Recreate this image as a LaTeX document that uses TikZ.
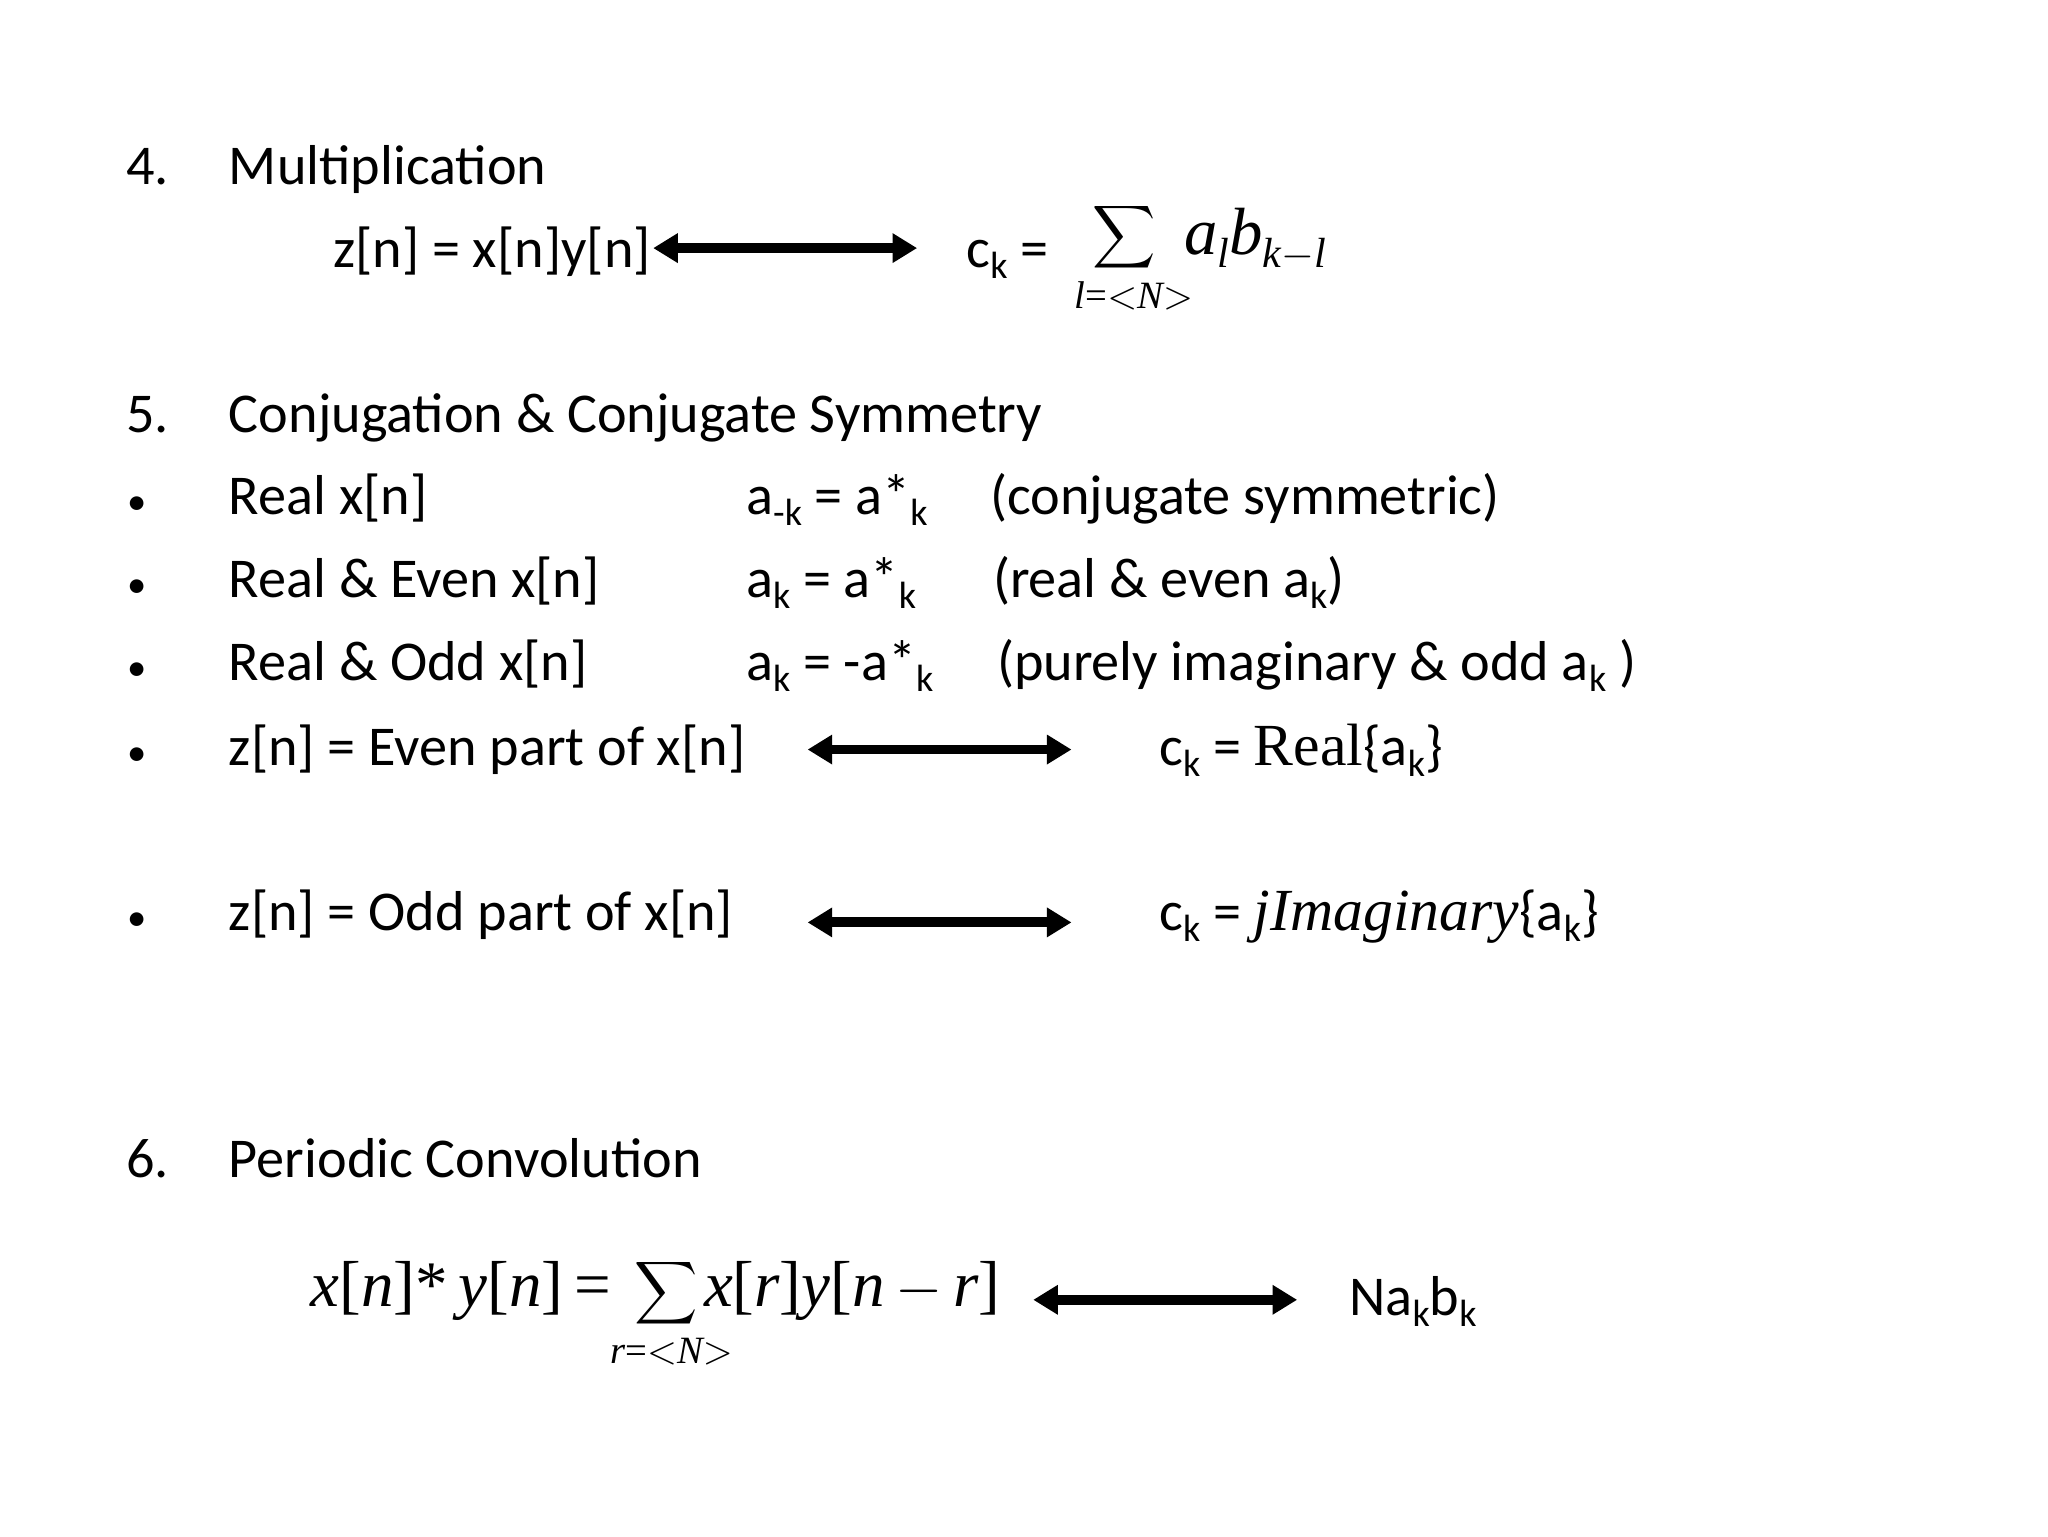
\documentclass[tikz,border=0pt]{standalone}
\usepackage{fontspec}
\setmainfont{Carlito}
\newfontfamily\tms{Liberation Serif}
\usetikzlibrary{arrows.meta}
\newcommand{\mi}[1]{{\tms\itshape #1}}
\newcommand{\sbs}[1]{\raisebox{-0.4ex}{\fontsize{10.8}{11}\selectfont #1}}
\newcommand{\msb}[1]{\raisebox{-0.4ex}{\fontsize{12}{12}\selectfont #1}}
\newcommand{\bigsum}{\scalebox{1.25}{$\displaystyle\sum$}}
\begin{document}
\begin{tikzpicture}[x=0.013196cm,y=-0.013196cm,
  txt/.style={anchor=base west,inner sep=0pt,font=\fontsize{16}{18}\selectfont},
  sig/.style={anchor=center,inner sep=0pt},
  bul/.style={anchor=base west,inner sep=0pt,font=\fontsize{11}{12}\selectfont},
  dbl/.style={line width=2.8pt,{Triangle[length=7pt,width=8pt]}-{Triangle[length=7pt,width=8pt]}}]
\useasboundingbox (0,0) rectangle (1552,1164);
% 4
\node[txt] (n4) at (95,140) {4.};
\node[txt] (t4) at (173,140) {Multiplication};
\node[txt] (z4) at (252,203) {z[n] = x[n]y[n]};
\node[txt] (c4) at (732,203) {c\sbs{k} =};
\node[sig] (s4) at (852,180) {\bigsum};
\node[txt] (ab4) at (897,193) {\fontsize{19}{19}\selectfont\mi{a}\msb{\mi{l}}\mi{b}\msb{\mi{k}$-$\mi{l}}};
\node[txt] (l4) at (814,234) {\fontsize{11}{11}\selectfont\mi{l}\tms=$<$\mi{N}$>$};
\coordinate (a4l) at (495,188); \coordinate (a4r) at (695,188);
\draw[dbl] (a4l) -- (a4r);
% 5
\node[txt] (n5) at (95,328) {5.};
\node[txt] (t5) at (173,328) {Conjugation \& Conjugate Symmetry};
\foreach \y/\a/\b/\c/\nm/\cx in {390/Real x{[}n{]}/a\sbs{-k} = a*\sbs{k}/(conjugate symmetric)/r1/750,
 453/Real \& Even x{[}n{]}/a\sbs{k} = a*\sbs{k}/(real \& even a\sbs{k})/r2/752,
 516/Real \& Odd x{[}n{]}/a\sbs{k} = -a*\sbs{k}/(purely imaginary \& odd a\sbs{k} )/r3/755}{
 \node[bul] (b\nm) at (96,\y) {\textbullet};
 \node[txt] (x\nm) at (173,\y) {\a};
 \node[txt] (y\nm) at (565,\y) {\b};
 \node[txt] (w\nm) at (\cx,\y) {\c};
}
\node[bul] (b4) at (96,580) {\textbullet};
\node[txt] (x4) at (173,580) {z[n] = Even part of x[n]};
\node[txt] (c5) at (878,580) {c\sbs{k} = {\tms\fontsize{17}{17}\selectfont Real}\{a\sbs{k}\}};
\coordinate (a5l) at (612,568); \coordinate (a5r) at (812,568);
\draw[dbl] (a5l) -- (a5r);
\node[bul] (b5) at (96,705) {\textbullet};
\node[txt] (x5) at (173,705) {z[n] = Odd part of x[n]};
\node[txt] (c6) at (878,705) {c\sbs{k} = {\fontsize{17}{17}\selectfont\mi{jImaginary}}\{a\sbs{k}\}};
\coordinate (a6l) at (612,699); \coordinate (a6r) at (812,699);
\draw[dbl] (a6l) -- (a6r);
% 6
\node[txt] (n6) at (95,892) {6.};
\node[txt] (t6) at (173,892) {Periodic Convolution};
\node[txt] (f1) at (235,990) {\fontsize{18.5}{19}\selectfont\mi{x}\tms[\mi{n}]*\,\mi{y}[\mi{n}]\,=};
\node[sig] (s6) at (505,980) {\bigsum};
\node[txt] (f2) at (533,990) {\fontsize{18.5}{19}\selectfont\mi{x}\tms[\mi{r}]\mi{y}[\mi{n}\,$-$\,\mi{r}]};
\node[txt] (l6) at (462,1033) {\fontsize{11}{11}\selectfont\mi{r}\tms=$<$\mi{N}$>$};
\coordinate (a7l) at (783,985); \coordinate (a7r) at (983,985);
\draw[dbl] (a7l) -- (a7r);
\node[txt] (nab) at (1022,997) {Na\sbs{k}b\sbs{k}};
\end{tikzpicture}
\end{document}
